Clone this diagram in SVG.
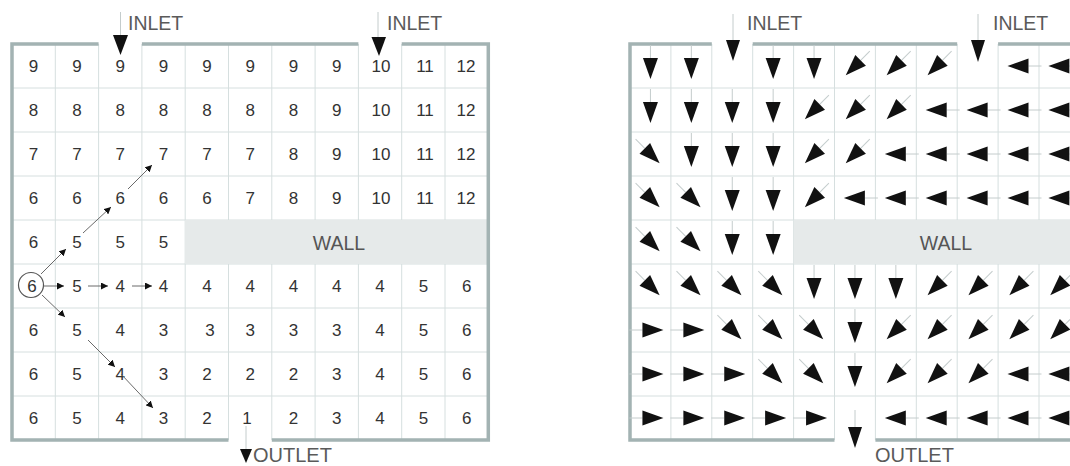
<svg xmlns="http://www.w3.org/2000/svg" width="1070" height="466" viewBox="0 0 1070 466">
<style>
.bg{fill:#ffffff}
.grid{stroke:#d6dfdf;stroke-width:1;fill:none}
.border{stroke:#a3b3b3;stroke-width:3.5;fill:none}
.wall{fill:#e6eaea}
.num{font-family:"Liberation Sans",Arial,sans-serif;font-size:17px;fill:#333;text-anchor:middle}
.lbl{font-family:"Liberation Sans",Arial,sans-serif;font-size:19.5px;fill:#5a5a5a}
.olbl{font-family:"Liberation Sans",Arial,sans-serif;font-size:20px;fill:#5a5a5a}
.walltxt{font-family:"Liberation Sans",Arial,sans-serif;font-size:19.5px;fill:#555;text-anchor:middle}
.tail{stroke:#c4cccc;stroke-width:1;fill:none}
.tri{fill:#111}
.conn{stroke:#6a6a6a;stroke-width:1;fill:none}
</style>
<defs>
<marker id="ah" viewBox="0 0 10 10" refX="10" refY="5" markerWidth="7" markerHeight="7" markerUnits="userSpaceOnUse" orient="auto">
<path d="M0,0 L10,5 L0,10 z" fill="#111"/>
</marker>
<g id="arr">
<line class="tail" x1="-21" y1="0" x2="-8" y2="0"/>
<polygon class="tri" points="-8,-7.5 -8,7.5 13,0"/>
</g>
</defs>
<rect class="bg" x="0" y="0" width="1070" height="466"/>

<!-- LEFT PANEL -->
<g id="left-grid">
<path class="grid" d="M55.3,44V440M98.6,44V440M141.9,44V440M185.2,44V440M228.5,44V440M271.8,44V440M315.1,44V440M358.4,44V440M401.7,44V440M445,44V440M12,88H488.3M12,132H488.3M12,176H488.3M12,220H488.3M12,264H488.3M12,308H488.3M12,352H488.3M12,396H488.3"/>
</g>
<g id="left-wall">
<rect class="wall" x="185.2" y="220" width="303.1" height="44"/>
<text class="walltxt" x="339" y="250">WALL</text>
</g>
<g id="left-border">
<path class="border" d="M98.6,44H12V440H228.5M141.9,44H358.4M401.7,44H488.3V440H271.8"/>
</g>
<g id="left-numbers">
<text class="num" y="72"><tspan x="33.6">9</tspan><tspan x="77">9</tspan><tspan x="120.3">9</tspan><tspan x="163.6">9</tspan><tspan x="206.9">9</tspan><tspan x="250.2">9</tspan><tspan x="293.5">9</tspan><tspan x="336.8">9</tspan><tspan x="381">10</tspan><tspan x="425">11</tspan><tspan x="466">12</tspan></text>
<text class="num" y="116"><tspan x="33.6">8</tspan><tspan x="77">8</tspan><tspan x="120.3">8</tspan><tspan x="163.6">8</tspan><tspan x="206.9">8</tspan><tspan x="250.2">8</tspan><tspan x="293.5">8</tspan><tspan x="336.8">9</tspan><tspan x="381">10</tspan><tspan x="425">11</tspan><tspan x="466">12</tspan></text>
<text class="num" y="160"><tspan x="33.6">7</tspan><tspan x="77">7</tspan><tspan x="120.3">7</tspan><tspan x="163.6">7</tspan><tspan x="206.9">7</tspan><tspan x="250.2">7</tspan><tspan x="293.5">8</tspan><tspan x="336.8">9</tspan><tspan x="381">10</tspan><tspan x="425">11</tspan><tspan x="466">12</tspan></text>
<text class="num" y="204"><tspan x="33.6">6</tspan><tspan x="77">6</tspan><tspan x="120.3">6</tspan><tspan x="163.6">6</tspan><tspan x="206.9">6</tspan><tspan x="250.2">7</tspan><tspan x="293.5">8</tspan><tspan x="336.8">9</tspan><tspan x="381">10</tspan><tspan x="425">11</tspan><tspan x="466">12</tspan></text>
<text class="num" y="248"><tspan x="33.6">6</tspan><tspan x="77">5</tspan><tspan x="120.3">5</tspan><tspan x="163.6">5</tspan></text>
<text class="num" y="292"><tspan x="32">6</tspan><tspan x="77">5</tspan><tspan x="120.3">4</tspan><tspan x="163.6">4</tspan><tspan x="206.9">4</tspan><tspan x="250.2">4</tspan><tspan x="293.5">4</tspan><tspan x="336.8">4</tspan><tspan x="380">4</tspan><tspan x="423.4">5</tspan><tspan x="466.7">6</tspan></text>
<text class="num" y="336"><tspan x="33.6">6</tspan><tspan x="77">5</tspan><tspan x="120.3">4</tspan><tspan x="163.6">3</tspan><tspan x="210">3</tspan><tspan x="250.2">3</tspan><tspan x="293.5">3</tspan><tspan x="336.8">3</tspan><tspan x="380">4</tspan><tspan x="423.4">5</tspan><tspan x="466.7">6</tspan></text>
<text class="num" y="380"><tspan x="33.6">6</tspan><tspan x="77">5</tspan><tspan x="120.3">4</tspan><tspan x="163.6">3</tspan><tspan x="206.9">2</tspan><tspan x="250.2">2</tspan><tspan x="293.5">2</tspan><tspan x="336.8">3</tspan><tspan x="380">4</tspan><tspan x="423.4">5</tspan><tspan x="466.7">6</tspan></text>
<text class="num" y="424"><tspan x="33.6">6</tspan><tspan x="77">5</tspan><tspan x="120.3">4</tspan><tspan x="163.6">3</tspan><tspan x="206.9">2</tspan><tspan x="247">1</tspan><tspan x="293.5">2</tspan><tspan x="336.8">3</tspan><tspan x="380">4</tspan><tspan x="423.4">5</tspan><tspan x="466.7">6</tspan></text>
</g>
<g id="left-start">
<circle cx="31" cy="285" r="12.5" fill="none" stroke="#555" stroke-width="1.2"/>
</g>
<g id="connectors">
<line class="conn" x1="44" y1="286" x2="64" y2="286" marker-end="url(#ah)"/>
<line class="conn" x1="88" y1="286" x2="108" y2="286" marker-end="url(#ah)"/>
<line class="conn" x1="132" y1="286" x2="152" y2="286" marker-end="url(#ah)"/>
<line class="conn" x1="41" y1="274" x2="66" y2="249" marker-end="url(#ah)"/>
<line class="conn" x1="83" y1="233" x2="111" y2="207" marker-end="url(#ah)"/>
<line class="conn" x1="128" y1="189" x2="152" y2="165" marker-end="url(#ah)"/>
<line class="conn" x1="42" y1="295" x2="65" y2="317" marker-end="url(#ah)"/>
<line class="conn" x1="88" y1="340" x2="115" y2="367" marker-end="url(#ah)"/>
<line class="conn" x1="121" y1="374" x2="153" y2="408" marker-end="url(#ah)"/>
</g>
<g id="left-inlet-1">
<line class="tail" x1="120.5" y1="12" x2="120.5" y2="35"/>
<polygon class="tri" points="113,35 128,35 120.5,55"/>
<text class="lbl" x="128" y="30">INLET</text>
</g>
<g id="left-inlet-2">
<line class="tail" x1="378" y1="12" x2="378" y2="37"/>
<polygon class="tri" points="371.5,37 386,37 379,56"/>
<text class="lbl" x="387" y="30">INLET</text>
</g>
<g id="left-outlet">
<line class="tail" x1="246" y1="426" x2="246" y2="449"/>
<polygon class="tri" points="240,449 252,449 246,463"/>
<text class="olbl" x="253" y="462">OUTLET</text>
</g>

<!-- RIGHT PANEL -->
<g id="right-grid">
<path class="grid" d="M670.9,44V440M711.8,44V440M752.7,44V440M793.6,44V440M834.5,44V440M875.4,44V440M916.3,44V440M957.2,44V440M998.1,44V440M1039,44V440M630,88H1070M630,132H1070M630,176H1070M630,220H1070M630,264H1070M630,308H1070M630,352H1070M630,396H1070"/>
</g>
<g id="right-wall">
<rect class="wall" x="793.6" y="220" width="280" height="44"/>
<text class="walltxt" x="946" y="250">WALL</text>
</g>
<g id="right-border">
<path class="border" d="M711.8,44H630V440H834.5M752.7,44H957.2M998.1,44H1072M875.4,440H1072"/>
</g>
<g id="right-arrows">
<use href="#arr" transform="translate(650.45,66) rotate(90)"/>
<use href="#arr" transform="translate(691.35,66) rotate(90)"/>
<use href="#arr" transform="translate(773.15,66) rotate(90)"/>
<use href="#arr" transform="translate(814.05,66) rotate(90)"/>
<use href="#arr" transform="translate(854.95,66) rotate(135)"/>
<use href="#arr" transform="translate(895.85,66) rotate(135)"/>
<use href="#arr" transform="translate(936.75,66) rotate(135)"/>
<use href="#arr" transform="translate(1020.5,66) rotate(180)"/>
<use href="#arr" transform="translate(1061.4,66) rotate(180)"/>
<use href="#arr" transform="translate(650.45,110) rotate(90)"/>
<use href="#arr" transform="translate(691.35,110) rotate(90)"/>
<use href="#arr" transform="translate(732.25,110) rotate(90)"/>
<use href="#arr" transform="translate(773.15,110) rotate(90)"/>
<use href="#arr" transform="translate(814.05,110) rotate(135)"/>
<use href="#arr" transform="translate(854.95,110) rotate(135)"/>
<use href="#arr" transform="translate(895.85,110) rotate(135)"/>
<use href="#arr" transform="translate(938.7,110) rotate(180)"/>
<use href="#arr" transform="translate(979.6,110) rotate(180)"/>
<use href="#arr" transform="translate(1020.5,110) rotate(180)"/>
<use href="#arr" transform="translate(1061.4,110) rotate(180)"/>
<use href="#arr" transform="translate(650.45,154) rotate(45)"/>
<use href="#arr" transform="translate(691.35,154) rotate(90)"/>
<use href="#arr" transform="translate(732.25,154) rotate(90)"/>
<use href="#arr" transform="translate(773.15,154) rotate(90)"/>
<use href="#arr" transform="translate(814.05,154) rotate(135)"/>
<use href="#arr" transform="translate(854.95,154) rotate(135)"/>
<use href="#arr" transform="translate(897.8,154) rotate(180)"/>
<use href="#arr" transform="translate(938.7,154) rotate(180)"/>
<use href="#arr" transform="translate(979.6,154) rotate(180)"/>
<use href="#arr" transform="translate(1020.5,154) rotate(180)"/>
<use href="#arr" transform="translate(1061.4,154) rotate(180)"/>
<use href="#arr" transform="translate(650.45,198) rotate(45)"/>
<use href="#arr" transform="translate(691.35,198) rotate(45)"/>
<use href="#arr" transform="translate(732.25,198) rotate(90)"/>
<use href="#arr" transform="translate(773.15,198) rotate(90)"/>
<use href="#arr" transform="translate(814.05,198) rotate(135)"/>
<use href="#arr" transform="translate(856.9,198) rotate(180)"/>
<use href="#arr" transform="translate(897.8,198) rotate(180)"/>
<use href="#arr" transform="translate(938.7,198) rotate(180)"/>
<use href="#arr" transform="translate(979.6,198) rotate(180)"/>
<use href="#arr" transform="translate(1020.5,198) rotate(180)"/>
<use href="#arr" transform="translate(1061.4,198) rotate(180)"/>
<use href="#arr" transform="translate(650.45,242) rotate(45)"/>
<use href="#arr" transform="translate(691.35,242) rotate(45)"/>
<use href="#arr" transform="translate(732.25,242) rotate(90)"/>
<use href="#arr" transform="translate(773.15,242) rotate(90)"/>
<use href="#arr" transform="translate(650.45,286) rotate(45)"/>
<use href="#arr" transform="translate(691.35,286) rotate(45)"/>
<use href="#arr" transform="translate(732.25,286) rotate(45)"/>
<use href="#arr" transform="translate(773.15,286) rotate(45)"/>
<use href="#arr" transform="translate(814.05,286) rotate(90)"/>
<use href="#arr" transform="translate(854.95,286) rotate(90)"/>
<use href="#arr" transform="translate(895.85,286) rotate(90)"/>
<use href="#arr" transform="translate(936.75,286) rotate(135)"/>
<use href="#arr" transform="translate(977.65,286) rotate(135)"/>
<use href="#arr" transform="translate(1018.55,286) rotate(135)"/>
<use href="#arr" transform="translate(1059.45,286) rotate(135)"/>
<use href="#arr" transform="translate(650.45,330)"/>
<use href="#arr" transform="translate(691.35,330)"/>
<use href="#arr" transform="translate(732.25,330) rotate(45)"/>
<use href="#arr" transform="translate(773.15,330) rotate(45)"/>
<use href="#arr" transform="translate(814.05,330) rotate(45)"/>
<use href="#arr" transform="translate(854.95,330) rotate(90)"/>
<use href="#arr" transform="translate(895.85,330) rotate(135)"/>
<use href="#arr" transform="translate(936.75,330) rotate(135)"/>
<use href="#arr" transform="translate(977.65,330) rotate(135)"/>
<use href="#arr" transform="translate(1018.55,330) rotate(135)"/>
<use href="#arr" transform="translate(1059.45,330) rotate(135)"/>
<use href="#arr" transform="translate(650.45,374)"/>
<use href="#arr" transform="translate(691.35,374)"/>
<use href="#arr" transform="translate(732.25,374)"/>
<use href="#arr" transform="translate(773.15,374) rotate(45)"/>
<use href="#arr" transform="translate(814.05,374) rotate(45)"/>
<use href="#arr" transform="translate(854.95,374) rotate(90)"/>
<use href="#arr" transform="translate(895.85,374) rotate(135)"/>
<use href="#arr" transform="translate(936.75,374) rotate(135)"/>
<use href="#arr" transform="translate(977.65,374) rotate(135)"/>
<use href="#arr" transform="translate(1020.5,374) rotate(180)"/>
<use href="#arr" transform="translate(1061.4,374) rotate(180)"/>
<use href="#arr" transform="translate(650.45,418)"/>
<use href="#arr" transform="translate(691.35,418)"/>
<use href="#arr" transform="translate(732.25,418)"/>
<use href="#arr" transform="translate(773.15,418)"/>
<use href="#arr" transform="translate(814.05,418)"/>
<use href="#arr" transform="translate(897.8,418) rotate(180)"/>
<use href="#arr" transform="translate(938.7,418) rotate(180)"/>
<use href="#arr" transform="translate(979.6,418) rotate(180)"/>
<use href="#arr" transform="translate(1020.5,418) rotate(180)"/>
<use href="#arr" transform="translate(1061.4,418) rotate(180)"/>
</g>
<g id="right-inlet-1">
<line class="tail" x1="733" y1="14" x2="733" y2="40"/>
<polygon class="tri" points="726,40 740,40 733,61"/>
<text class="lbl" x="747" y="30">INLET</text>
</g>
<g id="right-inlet-2">
<line class="tail" x1="978" y1="14" x2="978" y2="40"/>
<polygon class="tri" points="971,40 985,40 978,62"/>
<text class="lbl" x="993" y="30">INLET</text>
</g>
<g id="right-outlet">
<line class="tail" x1="855" y1="410" x2="855" y2="427"/>
<polygon class="tri" points="848,427 862,427 855,448"/>
<text class="olbl" x="875" y="462">OUTLET</text>
</g>
</svg>
